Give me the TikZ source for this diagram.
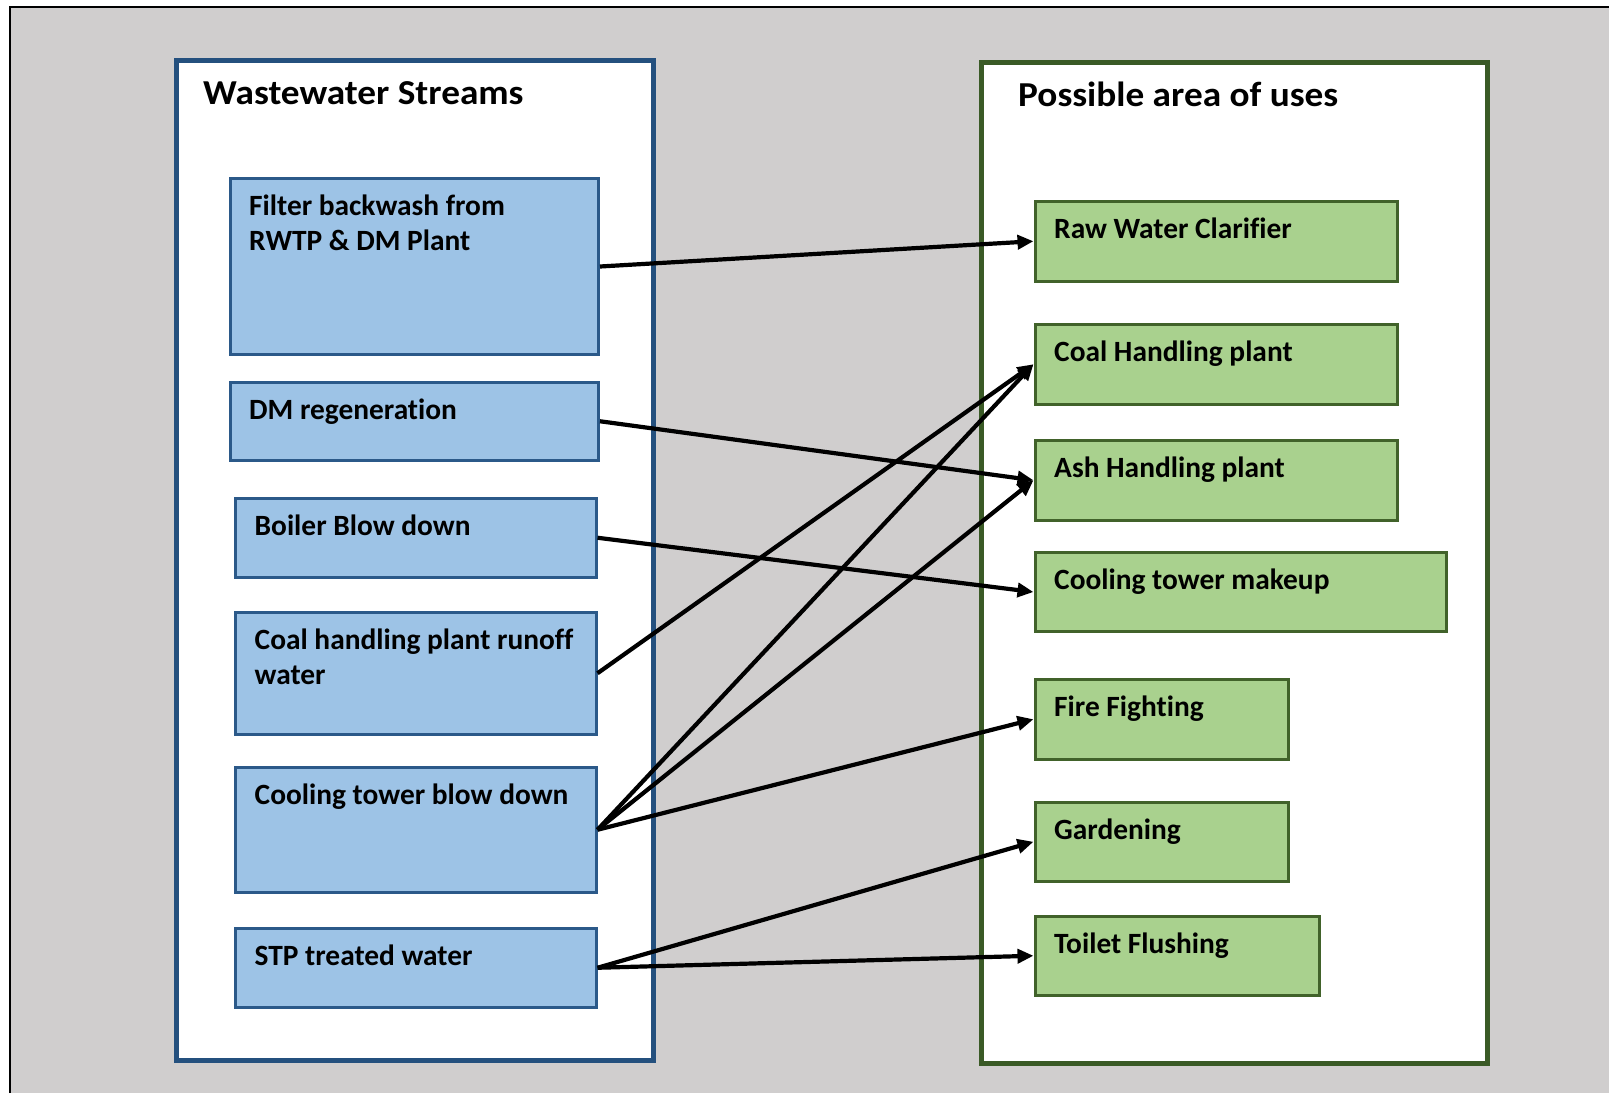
\documentclass[tikz,border=0pt]{standalone}
\usepackage{fontspec}
\setmainfont[Ligatures=NoCommon]{Carlito}
\usetikzlibrary{arrows.meta}

\definecolor{panelgray}{HTML}{D0CECE}
\definecolor{frameblue}{HTML}{24507E}
\definecolor{lineblue}{HTML}{2B5989}
\definecolor{fillblue}{HTML}{9DC3E6}
\definecolor{framegreen}{HTML}{3A5A26}
\definecolor{linegreen}{HTML}{41622A}
\definecolor{fillgreen}{HTML}{A9D18E}

\tikzset{
  srcbox/.style={draw=lineblue, fill=fillblue, line width=3pt, inner sep=0pt},
  usebox/.style={draw=linegreen, fill=fillgreen, line width=3pt, inner sep=0pt},
  lbl/.style={inner sep=0pt, align=left, font=\fontsize{29.4}{35}\selectfont\bfseries},
  ttl/.style={inner sep=0pt, font=\fontsize{35}{42}\selectfont\bfseries},
  conn/.style={line width=4.2pt, -{Triangle[length=16pt,width=14pt]}},
}

% box from its outer corners: style, name, x1, y1, x2, y2, text
\newcommand{\mkbox}[7]{%
  \node[#1, minimum width={#5-#3-3}, minimum height={#6-#4-3}]
    (#2) at ({(#3+#5)/2},{(#4+#6)/2}) {};
  \node[lbl, anchor=north west] (#2t) at ({#3+20.5},{#4+14}) {\strut #7};
}
% heading text, set slightly wide
\newcommand{\wide}[1]{\scalebox{1.065}[1]{#1}}

\begin{document}
\begin{tikzpicture}[x=1pt,y=-1pt]
  \useasboundingbox (0,0) rectangle (1609,1093);
  \fill[white] (0,0) rectangle (1609,1093);

  % grey slide panel with its black edge
  \fill[panelgray] (10,7) rectangle (1609,1093);
  \draw[black, line width=2.2pt] (10,1093) -- (10,7) -- (1609,7);

  % the two group frames
  \node[draw=frameblue, fill=white, line width=5pt, inner sep=0pt,
        minimum width={656-174-5}, minimum height={1063-58-5}]
        (streams) at ({(174+656)/2},{(58+1063)/2}) {};
  \node[draw=framegreen, fill=white, line width=5pt, inner sep=0pt,
        minimum width={1490-979-5}, minimum height={1066-60-5}]
        (uses) at ({(979+1490)/2},{(60+1066)/2}) {};

  \node[ttl, anchor=base west] (streamstitle) at (203,104.3) {\wide{Wastewater Streams}};
  \node[ttl, anchor=base west] (usestitle) at (1018,106.7) {\wide{Possible area of uses}};

  % wastewater streams
  \mkbox{srcbox}{s1}{228.5}{177}{600}{356}{Filter backwash from\\RWTP \& DM Plant}
  \mkbox{srcbox}{s2}{228.5}{380.5}{600}{462}{DM regeneration}
  \mkbox{srcbox}{s3}{234}{496.5}{597.5}{579}{Boiler Blow down}
  \mkbox{srcbox}{s4}{234}{610.5}{597.5}{736}{Coal handling plant runoff\\water}
  \mkbox{srcbox}{s5}{234}{765.5}{597.5}{894}{Cooling tower blow down}
  \mkbox{srcbox}{s6}{234}{926.5}{597.5}{1009}{STP treated water}

  % possible uses
  \mkbox{usebox}{u1}{1033.5}{199.5}{1398.5}{283}{Raw Water Clarifier}
  \mkbox{usebox}{u2}{1033.5}{323}{1398.5}{405.5}{Coal Handling plant}
  \mkbox{usebox}{u3}{1033.5}{439}{1398.5}{521.5}{Ash Handling plant}
  \mkbox{usebox}{u4}{1033.5}{551}{1448}{633}{Cooling tower makeup}
  \mkbox{usebox}{u5}{1033.5}{678}{1290}{760.5}{Fire Fighting}
  \mkbox{usebox}{u6}{1033.5}{801}{1290}{882.5}{Gardening}
  \mkbox{usebox}{u7}{1033.5}{915}{1321}{996.5}{Toilet Flushing}

  % stream-to-use connections
  \draw[conn] (s1.east) -- (u1.west);
  \draw[conn] (s2.east) -- (u3.west);
  \draw[conn] (s3.east) -- (u4.west);
  \draw[conn] (s4.east) -- (u2.west);
  \draw[conn] (s5.east) -- (u2.west);
  \draw[conn] (s5.east) -- (u3.west);
  \draw[conn] (s5.east) -- (u5.west);
  \draw[conn] (s6.east) -- (u6.west);
  \draw[conn] (s6.east) -- (u7.west);
\end{tikzpicture}
\end{document}
